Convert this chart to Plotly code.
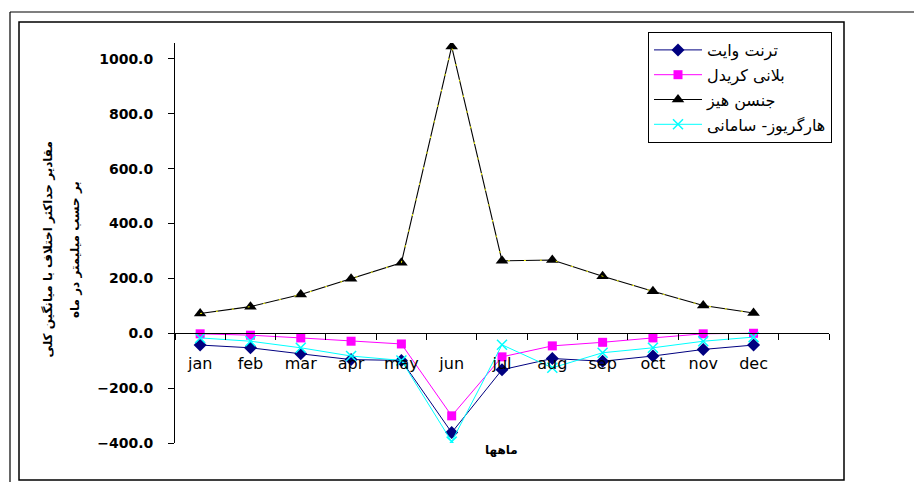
import plotly.graph_objects as go

months = ["jan", "feb", "mar", "apr", "may", "jun", "jul", "aug", "sep", "oct", "nov", "dec"]
thornthwaite = [-43, -53, -75, -96, -99, -362, -133, -92, -102, -83, -59, -43]
blaney_criddle = [-2, -7, -17, -29, -39, -301, -86, -46, -33, -17, -2, 0]
jensen_haise = [72, 97, 141, 199, 257, 1045, 264, 267, 208, 153, 101, 74]
hargreaves_samani = [-17, -29, -53, -83, -99, -395, -42, -126, -71, -53, -29, -14]

names = ["ترنت وایت", "بلانی کریدل", "جنسن هیز", "هارگریوز- سامانی"]
ytitle1 = "مقادیر حداکثر اختلاف با میانگین کلی"
ytitle2 = "بر حسب میلیمتر در ماه"
xtitle = "ماهها"
yticks = [-400, -200, 0, 200, 400, 600, 800, 1000]

categories = months + [" "]
YMIN, YMAX = -400, 1058

fig = go.Figure()

fig.add_trace(go.Scatter(x=months, y=thornthwaite, name=names[0], mode="lines+markers",
                         line=dict(color="#000080", width=1),
                         marker=dict(symbol="diamond", size=10, color="#000080"),
                         legendgroup="a"))
fig.add_trace(go.Scatter(x=months, y=blaney_criddle, name=names[1], mode="lines+markers",
                         line=dict(color="#FF00FF", width=1),
                         marker=dict(symbol="square", size=9, color="#FF00FF"),
                         legendgroup="b"))
fig.add_trace(go.Scatter(x=months, y=jensen_haise, name=names[2], mode="lines+markers",
                         line=dict(color="#000000", width=1.1),
                         marker=dict(symbol="triangle-up", size=11, color="#000000"),
                         legendgroup="c"))
# faint yellow specks along the black series
fig.add_trace(go.Scatter(x=months, y=jensen_haise, mode="lines",
                         line=dict(color="#FFFF00", width=1, dash="2px,14px"),
                         showlegend=False, hoverinfo="skip"))
fig.add_trace(go.Scatter(x=months, y=hargreaves_samani, name=names[3], mode="lines+markers",
                         line=dict(color="#00FFFF", width=1),
                         marker=dict(symbol="x-thin", size=10, color="#00FFFF",
                                     line=dict(color="#00FFFF", width=1.5)),
                         legendgroup="d"))

pos0 = (0 - YMIN) / (YMAX - YMIN)

fig.update_layout(
    width=914, height=474,
    margin=dict(l=167, r=93, t=35, b=39),
    paper_bgcolor="white", plot_bgcolor="white",
    showlegend=True,
    legend=dict(x=(648 - 175) / 654, y=(443 - 32) / 400, xanchor="left", yanchor="top",
                bgcolor="white", bordercolor="black", borderwidth=1,
                font=dict(family="DejaVu Sans", size=16, color="black"),
                tracegroupgap=1, itemwidth=48),
    xaxis=dict(type="category", categoryorder="array", categoryarray=categories,
               range=[-0.5, 12.5], anchor="free", position=pos0,
               showline=True, linecolor="black", linewidth=1,
               ticks="outside", tickson="boundaries", ticklen=6, tickcolor="black",
               showgrid=False, zeroline=False,
               tickfont=dict(family="DejaVu Sans", size=16, color="black"),
               ticklabelstandoff=16),
    yaxis=dict(range=[YMIN, YMAX], tickvals=yticks, tickformat=".1f",
               showline=True, linecolor="black", linewidth=1,
               ticks="outside", ticklen=6, tickcolor="black",
               showgrid=False, zeroline=False, ticklabelstandoff=12,
               tickfont=dict(family="DejaVu Sans", size=14, color="black", weight="bold")),
    annotations=[
        dict(text=ytitle1, x=(47.5 - 175) / 654, y=(443 - 250) / 400, xref="paper", yref="paper",
             showarrow=False, textangle=-90, xanchor="center", yanchor="middle",
             font=dict(family="DejaVu Sans", size=12, color="black", weight="bold")),
        dict(text=ytitle2, x=(75 - 175) / 654, y=(443 - 250) / 400, xref="paper", yref="paper",
             showarrow=False, textangle=-90, xanchor="center", yanchor="middle",
             font=dict(family="DejaVu Sans", size=12, color="black", weight="bold")),
        dict(text=xtitle, x=(501 - 175) / 654, y=(443 - 450) / 400, xref="paper", yref="paper",
             showarrow=False, xanchor="center", yanchor="middle",
             font=dict(family="DejaVu Sans", size=12, color="black", weight="bold")),
    ],
    shapes=[
        dict(type="rect", xref="paper", yref="paper",
             x0=(19 - 175) / 654, x1=(844 - 175) / 654, y0=(443 - 480) / 400, y1=(443 - 22) / 400,
             line=dict(color="black", width=1.5), layer="below"),
        dict(type="line", xref="paper", yref="paper",
             x0=(10 - 175) / 654, x1=(922 - 175) / 654, y0=(443 - 12) / 400, y1=(443 - 12) / 400,
             line=dict(color="black", width=1.2)),
        dict(type="line", xref="paper", yref="paper",
             x0=(10 - 175) / 654, x1=(10 - 175) / 654, y0=(443 - 12) / 400, y1=(443 - 482) / 400,
             line=dict(color="black", width=1.2)),
    ],
)

fig.write_html("out.html")
